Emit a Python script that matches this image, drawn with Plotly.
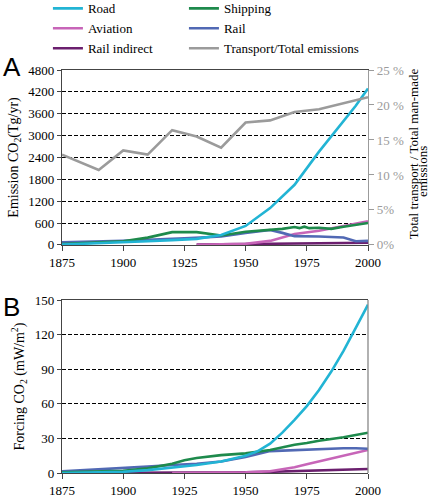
import plotly.graph_objects as go

# ---------------- Data ----------------
# Panel A: emissions (Tg/yr)
road_a_years = [1875, 1900, 1910, 1920, 1930, 1940, 1950, 1960, 1970, 1980, 1990, 1995, 2000]
road_a_vals = [10, 60, 100, 130, 165, 274, 520, 1010, 1650, 2560, 3380, 3820, 4290]

ship_a_years = [1875, 1890, 1900, 1910, 1920, 1930, 1940, 1950, 1960, 1965, 1970, 1972, 1974, 1976, 1980, 1985, 1990, 1995, 2000]
ship_a_vals = [20, 60, 100, 200, 350, 350, 260, 360, 410, 440, 490, 460, 500, 460, 470, 440, 500, 540, 600]

aviation_a_years = [1930, 1940, 1950, 1960, 1970, 1980, 1990, 2000]
aviation_a_vals = [0, 10, 30, 110, 300, 390, 510, 650]

rail_a_years = [1875, 1900, 1925, 1940, 1950, 1960, 1965, 1970, 1980, 1990, 1995, 2000]
rail_a_vals = [70, 110, 180, 230, 330, 410, 330, 240, 230, 205, 100, 110]

railind_a_years = [1930, 1950, 1970, 1990, 2000]
railind_a_vals = [10, 20, 35, 50, 60]

share_years = [1875, 1890, 1900, 1910, 1920, 1930, 1940, 1950, 1960, 1970, 1980, 1990, 2000]
share_pct = [12.9, 10.7, 13.5, 12.9, 16.4, 15.5, 13.9, 17.5, 17.8, 19.0, 19.4, 20.3, 21.1]

# Panel B: forcing (mW/m2)
road_b_years = [1875, 1900, 1910, 1920, 1930, 1940, 1950, 1955, 1960, 1965, 1970, 1975, 1980, 1985, 1990, 1995, 2000]
road_b_vals = [0, 1, 2.5, 4.5, 7, 10, 15, 19, 25.5, 35, 46, 58, 72, 88, 106, 126, 146]

ship_b_years = [1875, 1900, 1910, 1920, 1925, 1930, 1940, 1950, 1960, 1970, 1975, 1980, 1990, 2000]
ship_b_vals = [0.5, 2, 4, 8, 11, 13, 15.5, 17, 20, 24.5, 26, 28, 31, 35]

rail_b_years = [1875, 1900, 1910, 1920, 1930, 1940, 1950, 1960, 1965, 1970, 1980, 1990, 1995, 2000]
rail_b_vals = [1.5, 4, 5.5, 7, 8, 10, 14, 19, 19.5, 20, 20.5, 21.5, 21.5, 21]

aviation_b_years = [1920, 1950, 1960, 1965, 1970, 1975, 1980, 1990, 2000]
aviation_b_vals = [0, 0.5, 1.5, 3, 5, 7.5, 10, 15, 20]

railind_b_years = [1875, 1930, 1950, 1960, 1970, 1980, 1990, 2000]
railind_b_vals = [0, 0.2, 0.5, 1, 1.5, 2.2, 3, 3.5]

y_a_ticks = [0, 600, 1200, 1800, 2400, 3000, 3600, 4200, 4800]
pct_ticks = [0, 5, 10, 15, 20, 25]
pct_labels = ["0%", "5%", "10 %", "15 %", "20 %", "25 %"]
y_b_ticks = [0, 30, 60, 90, 120, 150]
x_ticks = [1875, 1900, 1925, 1950, 1975, 2000]

# ---------------- Styles ----------------
C_ROAD = "#22B4D4"
C_SHIP = "#1E8A4C"
C_AVI = "#C765B8"
C_RAIL = "#5169B4"
C_RIND = "#6B1F6E"
C_SHARE = "#9B9B9B"
LW = 2.6
SERIF = "Liberation Serif"
SANS = "Liberation Sans"

fig = go.Figure()

def add(x, y, name, color, xa, ya, legend, show):
    fig.add_trace(go.Scatter(x=x, y=y, name=name, mode="lines",
                             line=dict(color=color, width=LW),
                             xaxis=xa, yaxis=ya, legend=legend, showlegend=show))

# Panel A
add(share_years, share_pct, "Transport/Total emissions", C_SHARE, "x", "y2", "legend2", True)
add(railind_a_years, railind_a_vals, "Rail indirect", C_RIND, "x", "y", "legend", True)
add(aviation_a_years, aviation_a_vals, "Aviation", C_AVI, "x", "y", "legend", True)
add(rail_a_years, rail_a_vals, "Rail", C_RAIL, "x", "y", "legend2", True)
add(ship_a_years, ship_a_vals, "Shipping", C_SHIP, "x", "y", "legend2", True)
add(road_a_years, road_a_vals, "Road", C_ROAD, "x", "y", "legend", True)

# Panel B
add(railind_b_years, railind_b_vals, "Rail indirect", C_RIND, "x2", "y3", "legend", False)
add(aviation_b_years, aviation_b_vals, "Aviation", C_AVI, "x2", "y3", "legend", False)
add(rail_b_years, rail_b_vals, "Rail", C_RAIL, "x2", "y3", "legend", False)
add(ship_b_years, ship_b_vals, "Shipping", C_SHIP, "x2", "y3", "legend", False)
add(road_b_years, road_b_vals, "Road", C_ROAD, "x2", "y3", "legend", False)

A_DOM = [0.566, 1.0]
B_DOM = [0.0, 0.429]
AXC = "#444444"

xcommon = dict(range=[1875, 2000], tickvals=x_ticks, ticks="outside", ticklen=5,
               tickcolor=AXC, showline=True, linecolor=AXC, linewidth=1.3,
               showgrid=False, zeroline=False, tickfont=dict(family=SERIF, size=13, color="black"))

legcommon = dict(orientation="v", bgcolor="rgba(0,0,0,0)", font=dict(family=SERIF, size=13, color="black"),
                 itemwidth=30, tracegroupgap=0, xanchor="left", yanchor="top", traceorder="reversed")

fig.update_layout(
    width=434, height=498,
    margin=dict(l=62, r=66, t=70, b=25, autoexpand=False),
    plot_bgcolor="white", paper_bgcolor="white",
    font=dict(family=SERIF, size=13, color="black"),
    xaxis=dict(domain=[0, 1], anchor="y", mirror=True, **xcommon),
    xaxis2=dict(domain=[0, 1], anchor="y3", mirror=True, **xcommon),
    yaxis=dict(domain=A_DOM, range=[0, 4800], tickvals=y_a_ticks, ticks="outside", ticklen=4,
               tickcolor=AXC, showline=True, linecolor=AXC, linewidth=1.3,
               showgrid=True, gridcolor="black", griddash="4px,2px", gridwidth=1,
               zeroline=False, tickfont=dict(family=SERIF, size=13, color="black"),
               title=dict(text="Emission CO<sub>2</sub>(Tg/yr)", font=dict(family=SERIF, size=14), standoff=6)),
    yaxis2=dict(overlaying="y", side="right", anchor="x", range=[0, 25], tickvals=pct_ticks,
                ticktext=pct_labels, ticks="outside", ticklen=5, tickcolor=C_SHARE,
                showline=True, linecolor=C_SHARE, linewidth=1.3, showgrid=False, zeroline=False,
                tickfont=dict(family=SERIF, size=13, color=C_SHARE)),
    yaxis3=dict(domain=B_DOM, range=[0, 150], tickvals=y_b_ticks, ticks="outside", ticklen=4,
                tickcolor=AXC, showline=True, linecolor=AXC, linewidth=1.3,
                showgrid=True, gridcolor="black", griddash="4px,2px", gridwidth=1,
                zeroline=False, tickfont=dict(family=SERIF, size=13, color="black"), anchor="x2",
                title=dict(text="Forcing CO<sub>2</sub> (mW/m<sup>2</sup>)", font=dict(family=SERIF, size=14), standoff=6)),
    legend=dict(x=-0.046, y=1.19, **legcommon),
    legend2=dict(x=0.3985, y=1.19, **legcommon),
    shapes=[dict(type="line", xref="paper", yref="paper", x0=1, x1=1, y0=B_DOM[0], y1=B_DOM[1],
                 line=dict(color="#888888", width=1.3))],
    annotations=[
        dict(text="A", xref="paper", yref="paper", x=-0.2, y=1.05, xanchor="left", yanchor="top",
             showarrow=False, font=dict(family=SANS, size=26, color="black")),
        dict(text="B", xref="paper", yref="paper", x=-0.2, y=B_DOM[1] + 0.025, xanchor="left", yanchor="top",
             showarrow=False, font=dict(family=SANS, size=26, color="black")),
        dict(text="Total transport / Total man-made", xref="paper", yref="paper", x=1.150, y=0.793,
             xanchor="center", yanchor="middle", textangle=-90, showarrow=False,
             font=dict(family=SERIF, size=13, color="black")),
        dict(text="emissions", xref="paper", yref="paper", x=1.180, y=0.747,
             xanchor="center", yanchor="middle", textangle=-90, showarrow=False,
             font=dict(family=SERIF, size=13, color="black")),
    ],
)

fig.write_html("out.html", config={"displayModeBar": False},
               post_script="document.body.style.margin='0';")
